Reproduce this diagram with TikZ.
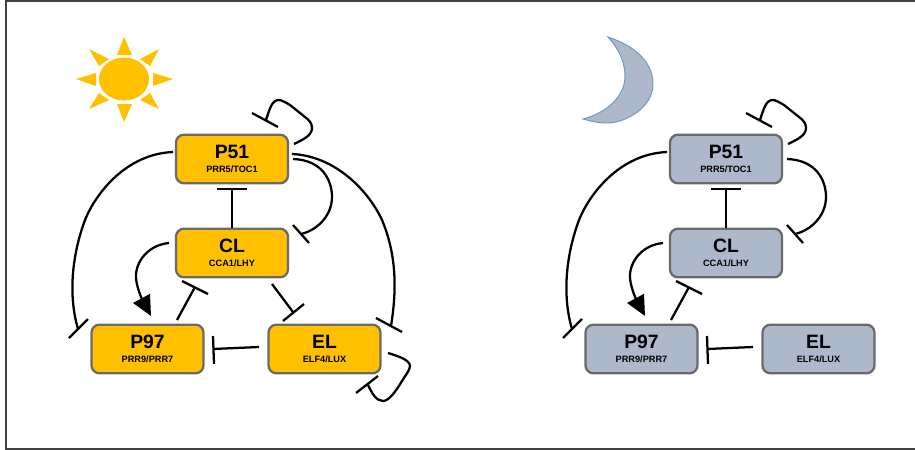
\documentclass[tikz,border=0pt]{standalone}
\usepackage{fontspec}
\setmainfont{Liberation Sans}
\usetikzlibrary{arrows.meta}
\definecolor{sunc}{HTML}{FFC000}
\definecolor{nightc}{HTML}{ADB9CA}
\definecolor{edgec}{HTML}{6A6A6A}
\definecolor{moonedge}{HTML}{6C97BE}
\tikzset{
  x=0.75pt,y=-0.75pt,
  gene/.style={draw=edgec,line width=1.7pt,rounded corners=6pt,minimum width=84pt,minimum height=36.5pt,inner sep=0pt,align=center},
  link/.style={draw=black,line width=1.7pt},
  bar/.style={draw=black,line width=1.7pt},
  ray/.style={fill=sunc,draw=none},
}
\newcommand{\genetext}[2]{{\fontsize{14.5}{15}\selectfont\bfseries #1}\\[-1pt]{\fontsize{6.9}{8}\selectfont\textbf{#2}}}
\newcommand{\common}[1]{%
  \node[gene,fill=#1] (p51) at (232,159) {\genetext{P51}{PRR5/TOC1}};
  \node[gene,fill=#1] (cl) at (232,253) {\genetext{CL}{CCA1/LHY}};
  \node[gene,fill=#1] (p97) at (147.5,349) {\genetext{P97}{PRR9/PRR7}};
  \node[gene,fill=#1] (el) at (324.5,349) {\genetext{EL}{ELF4/LUX}};
  % P51 self repression
  \coordinate (s1) at (294,144); \coordinate (s1a) at (252,113); \coordinate (s1b) at (278,127); \coordinate (s1c) at (266,120);
  \draw[link] (s1) .. controls (302,140) and (312,136) .. (312,128) .. controls (312,123) and (309,120) .. (305,117) -- (290,105) .. controls (285,102) and (281,100) .. (279,100) .. controls (272,100) and (270,108) .. (s1c);
  \draw[bar] (s1a) -- (s1b);
  % P51 to P97
  \coordinate (a1) at (173,152); \coordinate (a1c) at (78,329); \coordinate (a1a) at (69,338); \coordinate (a1b) at (88,319);
  \draw[link] (a1) .. controls (125,154) and (95,195) .. (85,220) .. controls (72,255) and (68,295) .. (a1c);
  \draw[bar] (a1a) -- (a1b);
  % P51 to CL, curved
  \coordinate (b1) at (293,159); \coordinate (b1c) at (301,234); \coordinate (b1a) at (293,225); \coordinate (b1b) at (309,243);
  \draw[link] (b1) .. controls (322,160) and (332,180) .. (332,197) .. controls (332,215) and (318,230) .. (b1c);
  \draw[bar] (b1a) -- (b1b);
  % CL to P51
  \coordinate (c1) at (232,228); \coordinate (c1c) at (232,189); \coordinate (c1a) at (217,189); \coordinate (c1b) at (247,189);
  \draw[link] (c1) -- (c1c);
  \draw[bar] (c1a) -- (c1b);
  % CL activates P97
  \coordinate (d1) at (169,243); \coordinate (d1c) at (151,316);
  \draw[link,-{Triangle[length=15pt,width=14pt]}] (d1) .. controls (148,245) and (135,262) .. (136,278) .. controls (137,290) and (144,303) .. (d1c);
  % P97 to CL
  \coordinate (e1) at (177,320); \coordinate (e1c) at (195,287); \coordinate (e1a) at (182,281); \coordinate (e1b) at (208,294);
  \draw[link] (e1) -- (e1c);
  \draw[bar] (e1a) -- (e1b);
  % EL to P97
  \coordinate (f1) at (259,347); \coordinate (f1c) at (213,349); \coordinate (f1a) at (213,336); \coordinate (f1b) at (214,364);
  \draw[link] (f1) -- (f1c);
  \draw[bar] (f1a) -- (f1b);
}
\begin{document}
\begin{tikzpicture}
\useasboundingbox (0,0) rectangle (915,450);
\fill[white] (0,0) rectangle (915,450);
\coordinate (fa) at (6,1); \coordinate (fb) at (915,449);
\draw[line width=1pt,draw=black!75] (915,1) -- (fa) -- (6,449) -- (fb);
% sun
\fill[sunc] (124,79) ellipse [x radius=25, y radius=21.5];
\fill[ray] (124,37) -- (132,55) -- (117,55) -- cycle;
\fill[ray] (124,122) -- (132,104) -- (117,104) -- cycle;
\fill[ray] (173,79) -- (153,73) -- (153,86) -- cycle;
\fill[ray] (76,79) -- (96,73) -- (96,86) -- cycle;
\fill[ray] (159,49) -- (140,59) -- (150,66) -- cycle;
\fill[ray] (89,49) -- (109,59) -- (99,66) -- cycle;
\fill[ray] (159,109) -- (140,100) -- (150,93) -- cycle;
\fill[ray] (89,109) -- (109,100) -- (99,93) -- cycle;
% moon
\draw[fill=nightc,draw=moonedge,line width=0.7pt] (608,37) .. controls (635,46) and (653,62) .. (653,84) .. controls (653,108) and (625,123) .. (607,123) .. controls (598,123) and (590,121) .. (583,119) .. controls (606,113) and (625,97) .. (625,76) .. controls (625,61) and (618,48) .. (608,37) -- cycle;
% day panel
\begin{scope}[name prefix=day-]
  \common{sunc}
  \coordinate (g1) at (292,154); \coordinate (g1c) at (391,326); \coordinate (g1a) at (376,318); \coordinate (g1b) at (402,332);
  \draw[link] (g1) .. controls (335,156) and (368,190) .. (382,220) .. controls (398,258) and (396,295) .. (g1c);
  \draw[bar] (g1a) -- (g1b);
  \coordinate (h1) at (272,284); \coordinate (h1c) at (293,312); \coordinate (h1a) at (283,321); \coordinate (h1b) at (304,304);
  \draw[link] (h1) -- (h1c);
  \draw[bar] (h1a) -- (h1b);
  \coordinate (i1) at (388,353); \coordinate (i1c) at (368,385); \coordinate (i1a) at (356,393); \coordinate (i1b) at (378,376);
  \draw[link] (i1) .. controls (398,356) and (410,360) .. (410,366) .. controls (410,370) and (405,376) .. (402,381) .. controls (396,391) and (389,401) .. (383,401) .. controls (376,401) and (372,393) .. (i1c);
  \draw[bar] (i1a) -- (i1b);
\end{scope}
% night panel
\begin{scope}[xshift=370.5pt,name prefix=night-]
  \common{nightc}
\end{scope}
\end{tikzpicture}
\end{document}
